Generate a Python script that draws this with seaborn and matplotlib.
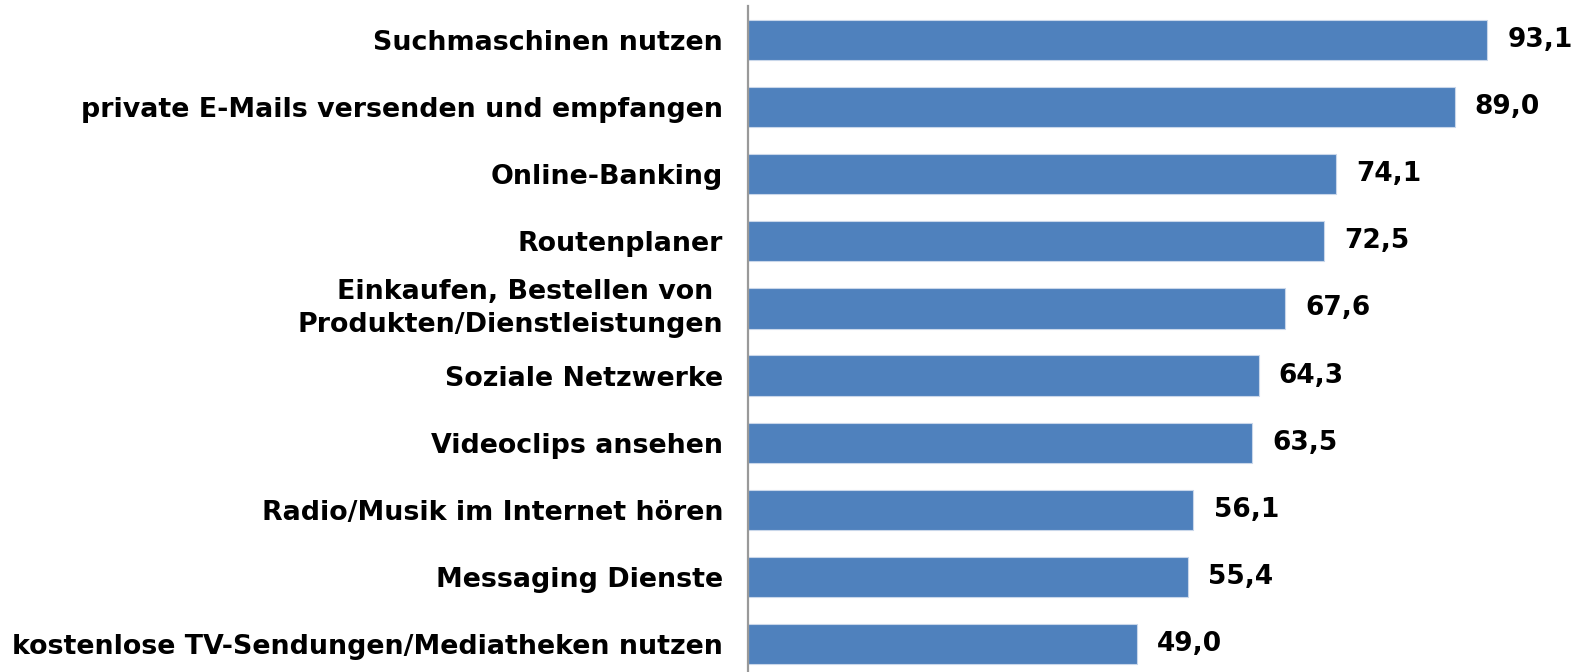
import matplotlib
matplotlib.use("Agg")
import matplotlib.pyplot as plt
import seaborn as sns
import pandas as pd

categories = [
    "Suchmaschinen nutzen",
    "private E-Mails versenden und empfangen",
    "Online-Banking",
    "Routenplaner",
    "Einkaufen, Bestellen von \nProdukten/Dienstleistungen",
    "Soziale Netzwerke",
    "Videoclips ansehen",
    "Radio/Musik im Internet hören",
    "Messaging Dienste",
    "kostenlose TV-Sendungen/Mediatheken nutzen",
]
values = [93.1, 89.0, 74.1, 72.5, 67.6, 64.3, 63.5, 56.1, 55.4, 49.0]

df = pd.DataFrame({"cat": categories, "val": values})

sns.set_theme(style="white")
plt.rcParams["font.family"] = ["DejaVu Sans"]

fig = plt.figure(figsize=(15.79, 6.72), dpi=100)
ax = fig.add_axes([748 / 1579, 1 - 677.5 / 672, 794 / 1579, 671 / 672])

sns.barplot(data=df, y="cat", x="val", orient="h", color="#4F81BD",
            saturation=1, width=0.6, edgecolor="#c9d7ea", linewidth=0.8, ax=ax)

ax.set_xlim(0, 100)
ax.set_ylim(9.5, -0.5)
ax.set_xlabel("")
ax.set_ylabel("")
ax.set_xticks([])
for s in ["top", "right", "bottom"]:
    ax.spines[s].set_visible(False)
ax.spines["left"].set_color("#999999")
ax.spines["left"].set_linewidth(1.6)
ax.tick_params(axis="y", length=0, pad=18)
for lab in ax.get_yticklabels():
    lab.set_fontsize(19.4)
    lab.set_fontweight("bold")
    lab.set_color("black")
    lab.set_horizontalalignment("right")
    lab.set_multialignment("right")
    lab.set_linespacing(1.35)
    if "\n" in lab.get_text():
        lab.set_verticalalignment("center")

ax.bar_label(ax.containers[0], labels=[f"{v:.1f}".replace(".", ",") for v in values],
             padding=14.5, fontsize=19, fontweight="bold", color="black")

fig.savefig("out.png", dpi=100)
